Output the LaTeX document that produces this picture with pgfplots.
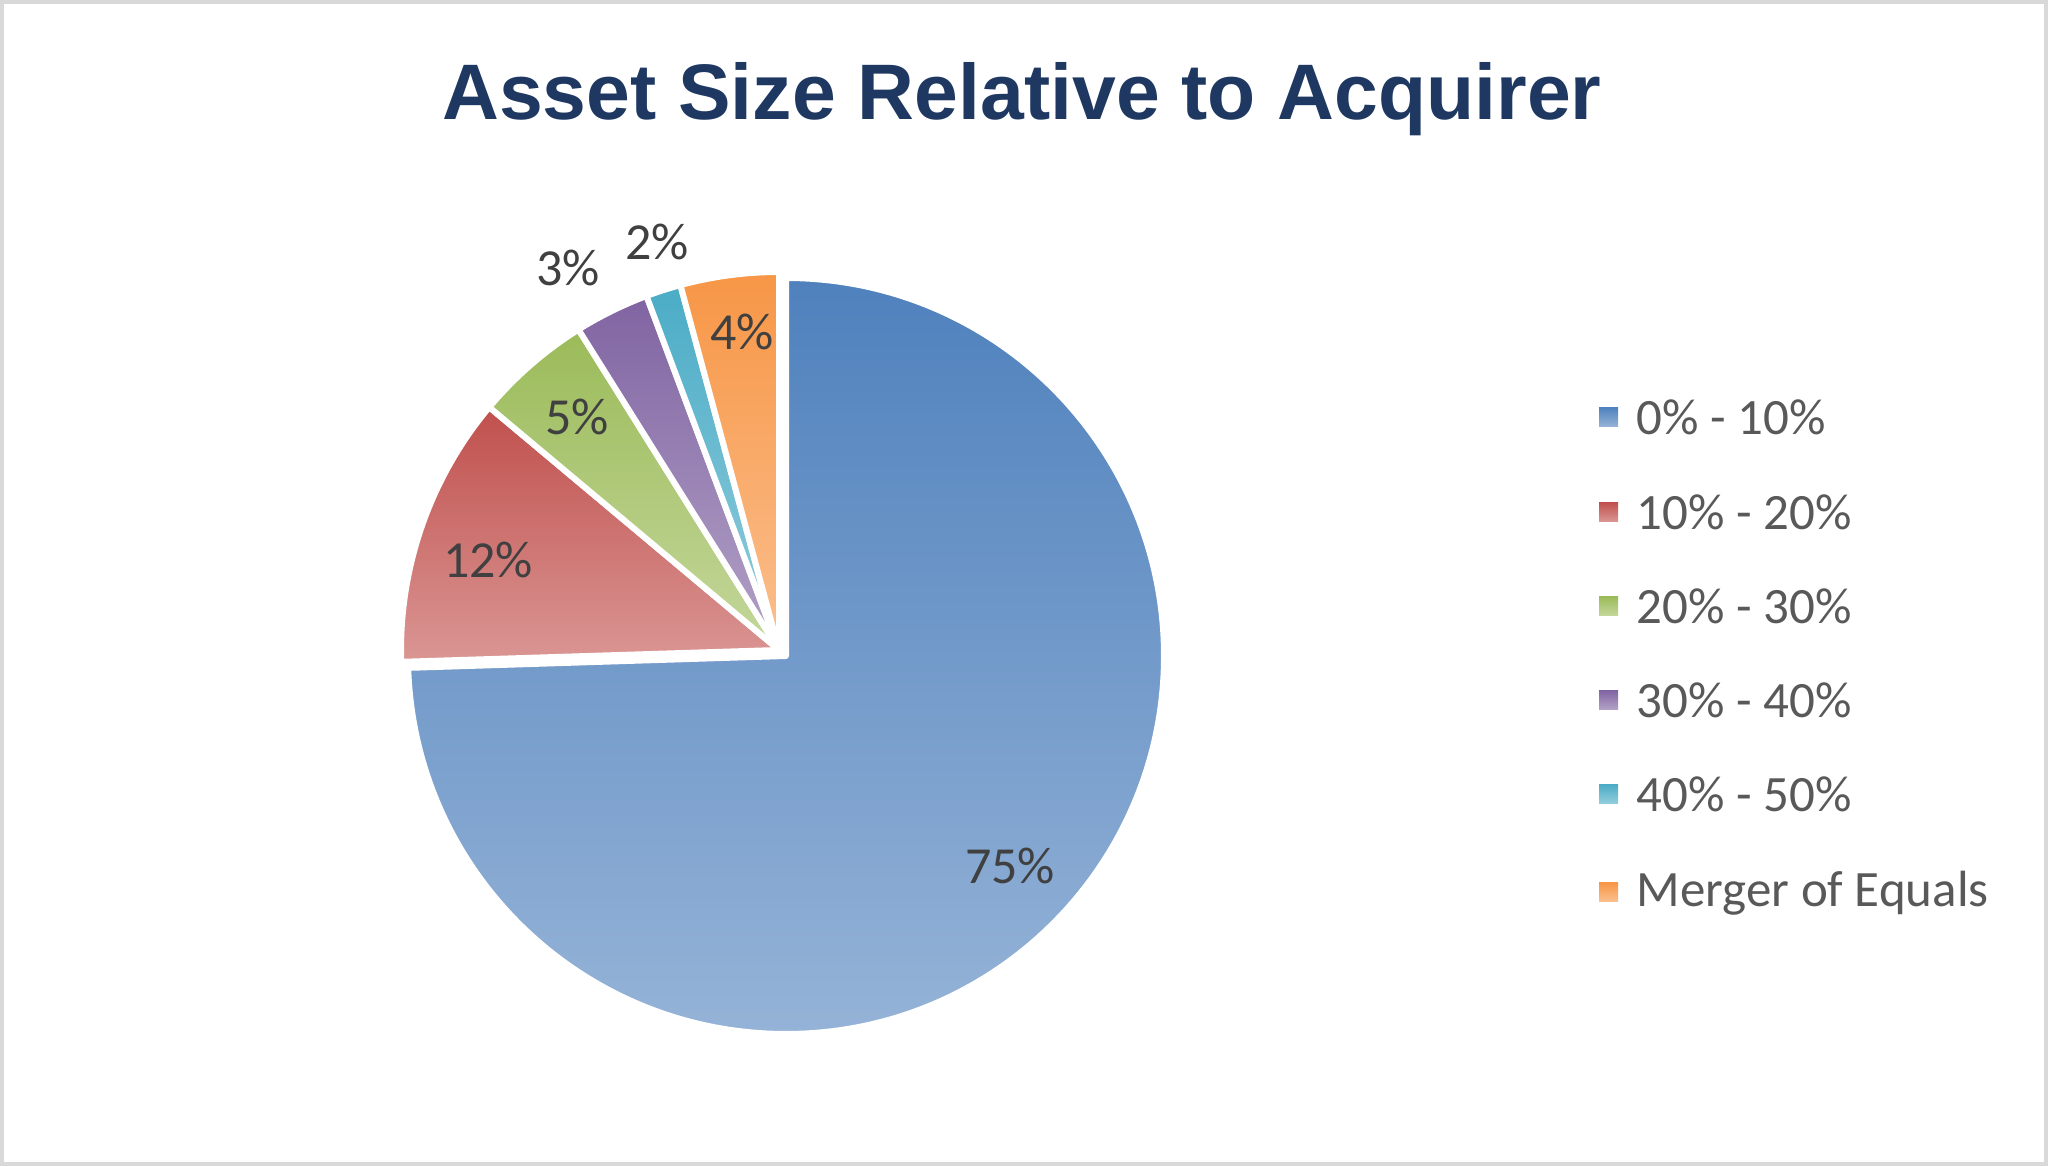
\documentclass[border=0pt]{standalone}
\usepackage{fontspec}
\setmainfont{Carlito}
\newfontfamily\titlefont{Liberation Sans}
\usepackage{pgfplots}
\pgfplotsset{compat=1.18}

\definecolor{titlecol}{HTML}{1F3861}
\definecolor{labcol}{HTML}{404040}
\definecolor{legcol}{HTML}{595959}
\definecolor{framecol}{HTML}{D9D9D9}
\definecolor{bluetop}{HTML}{4F81BD}\definecolor{bluebot}{HTML}{95B3D7}
\definecolor{redtop}{HTML}{C0504D}\definecolor{redbot}{HTML}{DA9694}
\definecolor{greentop}{HTML}{9BBB59}\definecolor{greenbot}{HTML}{C4D79B}
\definecolor{purpletop}{HTML}{8064A2}\definecolor{purplebot}{HTML}{B3A2C7}
\definecolor{cyantop}{HTML}{4BACC6}\definecolor{cyanbot}{HTML}{93CDDD}
\definecolor{orangetop}{HTML}{F79646}\definecolor{orangebot}{HTML}{FBBF8E}

% shares in percent
\def\vA{74.5}\def\vB{11.6}\def\vC{5.0}\def\vD{3.2}\def\vE{1.5}\def\vF{4.2}
\pgfmathsetmacro\aA{90}
\pgfmathsetmacro\aB{\aA-3.6*\vA}
\pgfmathsetmacro\aC{\aB-3.6*\vB}
\pgfmathsetmacro\aD{\aC-3.6*\vC}
\pgfmathsetmacro\aE{\aD-3.6*\vD}
\pgfmathsetmacro\aF{\aE-3.6*\vE}
\pgfmathsetmacro\aG{\aF-3.6*\vF}
\def\R{3.78cm}

\begin{document}
\begin{tikzpicture}
\begin{axis}[
  scale only axis, width=20.48cm, height=11.66cm,
  xmin=0, xmax=2048, ymin=0, ymax=1166,
  hide axis, clip=false,
]
% frame
\draw[framecol, line width=0.4mm] (axis cs:2,2) rectangle (axis cs:2046,1164);
% title
\node[text=titlecol, font=\titlefont\bfseries\fontsize{22.4}{26}\selectfont] at (axis cs:1022,1067) {Asset Size Relative to Acquirer};
% slices
\path[top color=bluetop, bottom color=bluebot, draw=white, line width=0.6mm, line join=round]
  (axis cs:786,510) -- ++(\aA:\R) arc[start angle=\aA, end angle=\aB, radius=\R] -- cycle;
\path[top color=redtop, bottom color=redbot, draw=white, line width=0.6mm, line join=round]
  (axis cs:779,516) -- ++(\aB:\R) arc[start angle=\aB, end angle=\aC, radius=\R] -- cycle;
\path[top color=greentop, bottom color=greenbot, draw=white, line width=0.6mm, line join=round]
  (axis cs:779,516) -- ++(\aC:\R) arc[start angle=\aC, end angle=\aD, radius=\R] -- cycle;
\path[top color=purpletop, bottom color=purplebot, draw=white, line width=0.6mm, line join=round]
  (axis cs:779,516) -- ++(\aD:\R) arc[start angle=\aD, end angle=\aE, radius=\R] -- cycle;
\path[top color=cyantop, bottom color=cyanbot, draw=white, line width=0.6mm, line join=round]
  (axis cs:779,516) -- ++(\aE:\R) arc[start angle=\aE, end angle=\aF, radius=\R] -- cycle;
\path[top color=orangetop, bottom color=orangebot, draw=white, line width=0.6mm, line join=round]
  (axis cs:779,516) -- ++(\aF:\R) arc[start angle=\aF, end angle=\aG, radius=\R] -- cycle;
% data labels
\begin{scope}[every node/.style={text=labcol, font=\fontsize{14.8}{17}\selectfont, inner sep=0pt}]
\node at (axis cs:1010,300) {75\%};
\node at (axis cs:488,606) {12\%};
\node at (axis cs:577,749) {5\%};
\node at (axis cs:568,898) {3\%};
\node at (axis cs:657,924) {2\%};
\node at (axis cs:742,834) {4\%};
\end{scope}
% legend
\begin{scope}[every node/.style={text=legcol, font=\fontsize{14.5}{17}\selectfont, anchor=west, inner sep=0pt}]
\path[top color=bluetop, bottom color=bluebot] (axis cs:1599,739.5) rectangle (axis cs:1618,758.5);
\node at (axis cs:1636,749) {0\% - 10\%};
\path[top color=redtop, bottom color=redbot] (axis cs:1599,644.5) rectangle (axis cs:1618,663.5);
\node at (axis cs:1636,654) {10\% - 20\%};
\path[top color=greentop, bottom color=greenbot] (axis cs:1599,550.5) rectangle (axis cs:1618,569.5);
\node at (axis cs:1636,560) {20\% - 30\%};
\path[top color=purpletop, bottom color=purplebot] (axis cs:1599,456.5) rectangle (axis cs:1618,475.5);
\node at (axis cs:1636,466) {30\% - 40\%};
\path[top color=cyantop, bottom color=cyanbot] (axis cs:1599,362.5) rectangle (axis cs:1618,381.5);
\node at (axis cs:1636,372) {40\% - 50\%};
\path[top color=orangetop, bottom color=orangebot] (axis cs:1599,264.5) rectangle (axis cs:1618,283.5);
\node at (axis cs:1636,273) {Merger of Equals};
\end{scope}
\end{axis}
\end{tikzpicture}
\end{document}
